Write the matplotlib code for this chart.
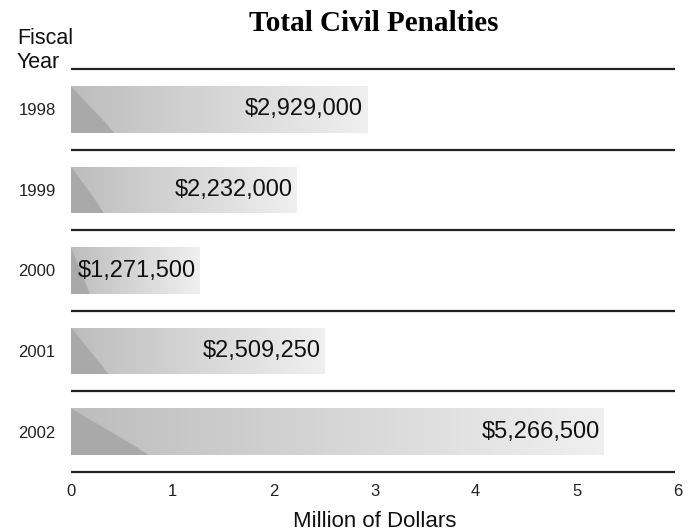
import matplotlib
matplotlib.use('Agg')
import numpy as np
import matplotlib.pyplot as plt

years = ['1998', '1999', '2000', '2001', '2002']
penalties = [2929000, 2232000, 1271500, 2509250, 5266500]
labels = ['$2,929,000', '$2,232,000', '$1,271,500', '$2,509,250', '$5,266,500']
xticks = [0, 1, 2, 3, 4, 5, 6]

plt.rcParams['font.family'] = ['Liberation Sans', 'DejaVu Sans']

fig = plt.figure(figsize=(6.94, 5.31), dpi=100)
ax = fig.add_axes([71/694, 59/531, 607/694, 403/531])

millions = np.array(penalties) / 1e6
ypos = np.arange(len(years))
bh = 0.58

bars = ax.barh(ypos, millions, height=bh, color='none', edgecolor='none')

# gradient fill with dark triangle on the left of every bar
nu, nv = 400, 60
u = np.linspace(0, 1, nu)[None, :]
v = np.linspace(0, 1, nv)[:, None]
for bar, val, y in zip(bars, millions, ypos):
    shade = 0.74 + (0.94 - 0.74) * u + 0 * v
    shade = np.where(u < 0.145 * v, 0.665, shade)
    img = np.dstack([shade] * 3)
    im = ax.imshow(img, extent=[0, val, y + bh/2, y - bh/2], aspect='auto',
                   interpolation='bilinear', zorder=2)
    im.set_clip_path(bar)

for val, y, lab in zip(millions, ypos, labels):
    ax.annotate(lab, (val, y), xytext=(-3, 0), textcoords='offset points',
                ha='right', va='center', fontsize=17, color='#111111', zorder=3)

# separator lines
for s in np.arange(-0.5, len(years), 1.0):
    ax.plot([0, 5.97], [s, s], color='#222222', lw=1.6, zorder=1,
            solid_capstyle='butt', clip_on=False)

ax.set_xlim(0, 6)
ax.set_ylim(len(years) - 0.5, -0.5)
ax.set_xticks(xticks)
ax.set_xticklabels([str(t) for t in xticks])
ax.set_yticks(ypos)
ax.set_yticklabels(years)
ax.tick_params(length=0, labelsize=12, colors='#222222')
ax.tick_params(axis='y', pad=11)
ax.tick_params(axis='x', pad=9)
for sp in ax.spines.values():
    sp.set_visible(False)

ax.set_xlabel('Million of Dollars', fontsize=16, color='#111111', labelpad=8)

fig.text(17/694, 1 - 68/531, 'Fiscal\nYear', fontsize=15.5, color='#111111',
         ha='left', va='baseline', linespacing=1.2)
fig.text(374/694, 1 - 31/531, 'Total Civil Penalties', fontsize=21,
         fontweight='bold', family='Liberation Serif', ha='center', va='baseline')

plt.savefig('out.png', dpi=100)
plt.close()
